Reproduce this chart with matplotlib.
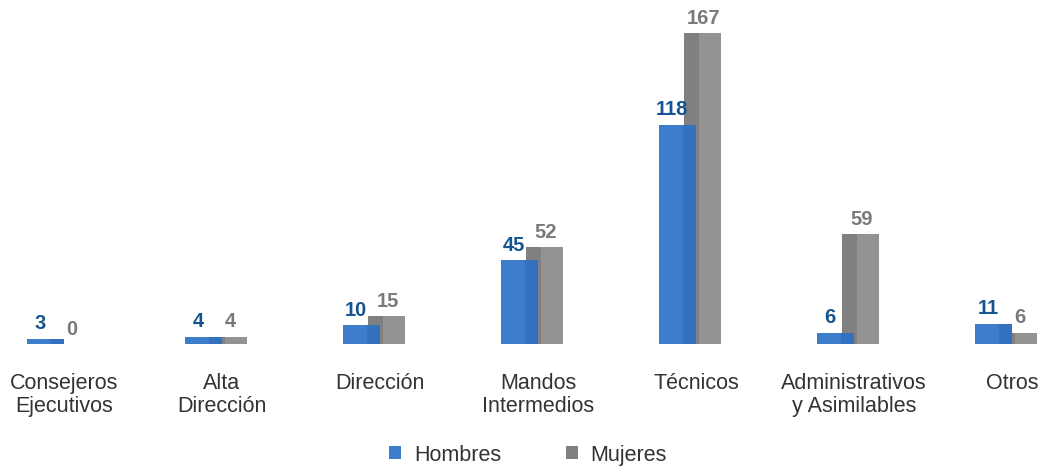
import matplotlib
matplotlib.use("Agg")
import matplotlib.pyplot as plt
from matplotlib.patches import Patch
import numpy as np

categories = ["Consejeros\nEjecutivos", "Alta\nDirección", "Dirección", "Mandos\nIntermedios",
              "Técnicos", "Administrativos\ny Asimilables", "Otros"]
hombres = [3, 4, 10, 45, 118, 6, 11]
mujeres = [0, 4, 15, 52, 167, 59, 6]

plt.rcParams['font.family'] = ['Liberation Sans', 'DejaVu Sans']

fig = plt.figure(figsize=(10.46, 4.72), dpi=100)
ax = fig.add_axes([0, 0.271, 1, 0.729])

x = np.arange(len(categories))
w = 0.234
off_h = -0.12
off_m = 0.04
blue = "#3d7dcc"
blue_side = "#3370bd"
gray = "#808080"
gray_side = "#939393"

ax.bar(x + off_m, mujeres, w, color=gray, zorder=1)
ax.bar(x + off_m + w * 0.2, mujeres, w * 0.6, color=gray_side, zorder=1.1)
ax.bar(x + off_h, hombres, w, color=blue, zorder=2)
ax.bar(x + off_h + w * 0.33, hombres, w * 0.34, color=blue_side, zorder=2.1)

for xi, v in zip(x, hombres):
    ax.annotate(str(v), (xi + off_h - 0.03, v), xytext=(0, 4), textcoords="offset points",
                ha="center", va="bottom", fontsize=14.5, fontweight="bold", color="#16548f", zorder=5)
for xi, v in zip(x, mujeres):
    ax.annotate(str(v), (xi + off_m + 0.01, v), xytext=(0, 4), textcoords="offset points",
                ha="center", va="bottom", fontsize=14.5, fontweight="bold", color="#7a7a7a", zorder=5)

ax.set_xlim(-64 / 158, (1046 - 64) / 158)
ax.set_ylim(0, 185)
ax.set_xticks(x)
ax.set_xticklabels(categories, fontsize=15.5, color="#333333", linespacing=1.1)
ax.tick_params(axis="x", length=0, pad=21)
ax.set_yticks([])
for s in ax.spines.values():
    s.set_visible(False)

handles = [Patch(facecolor=blue, label="Hombres"), Patch(facecolor=gray, label="Mujeres")]
fig.legend(handles=handles, loc="center", bbox_to_anchor=(0.505, 0.036), ncol=2, frameon=False,
           fontsize=15.5, handlelength=0.55, handleheight=0.55, handletextpad=0.6,
           columnspacing=3.0, labelcolor="#333333")

fig.savefig("out.png", dpi=100)
